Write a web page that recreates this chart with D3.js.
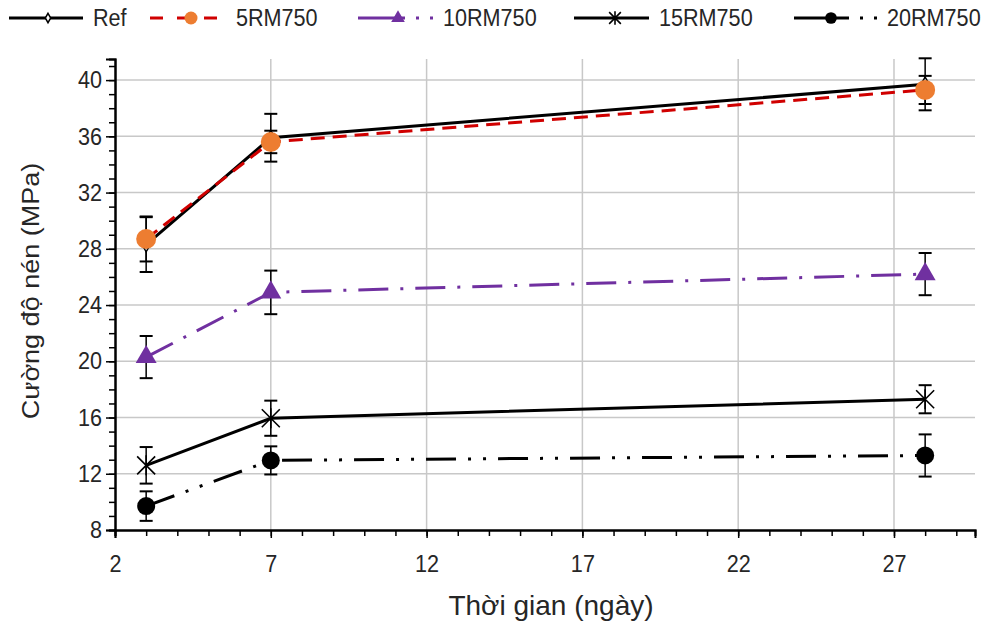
<!DOCTYPE html>
<html>
<head>
<meta charset="utf-8">
<script src="https://cdn.jsdelivr.net/npm/d3@7"></script>
<style>
  body { margin: 0; background: #fff; }
  text { font-family: "Liberation Sans", Arial, sans-serif; fill: #262626; }
</style>
</head>
<body>
<div id="chart"></div>
<script>

var days = [3, 7, 28];
var seriesNames = ["Ref", "5RM750", "10RM750", "15RM750", "20RM750"];

var refVals = [28.3, 35.9, 39.7];
var refErr = [1.95, 1.7, 1.85];
var rm5Vals = [28.7, 35.6, 39.3];
var rm5Err = [1.6, 0.8, 1.0];
var rm10Vals = [20.3, 24.9, 26.2];
var rm10Err = [1.5, 1.55, 1.5];
var rm15Vals = [12.6, 15.95, 17.3];
var rm15Err = [1.3, 1.25, 1.0];
var rm20Vals = [9.7, 12.95, 13.3];
var rm20Err = [1.05, 1.0, 1.5];

var xTicks = [2, 7, 12, 17, 22, 27];
var yTicks = [8, 12, 16, 20, 24, 28, 32, 36, 40];

var margin = { left: 115, right: 12, top: 59, bottom: 100 };
var W = 987, H = 630;
var width = W - margin.left - margin.right;
var height = H - margin.top - margin.bottom;
var SX = 0.9; // text in the picture is a little narrow

var series = [
  { name: seriesNames[0], vals: refVals, err: refErr, color: "#000", dash: null, marker: "diamond" },
  { name: seriesNames[1], vals: rm5Vals, err: rm5Err, color: "#d00000", dash: "14,8", marker: "circleOrange" },
  { name: seriesNames[2], vals: rm10Vals, err: rm10Err, color: "#7030a0", dash: "30,12,3,12", marker: "triangle" },
  { name: seriesNames[3], vals: rm15Vals, err: rm15Err, color: "#000", dash: null, marker: "asterisk" },
  { name: seriesNames[4], vals: rm20Vals, err: rm20Err, color: "#000", dash: "30,12,3,12,3,12", marker: "circleBlack" }
];

var svg = d3.select("#chart").append("svg")
  .attr("width", W)
  .attr("height", H);

var g = svg.append("g")
  .attr("transform", "translate(" + margin.left + "," + margin.top + ")");

var x = d3.scaleLinear().domain([2, 29.6]).range([0, width]);
var y = d3.scaleLinear().domain([8, 41.5]).range([height, 0]);

// grid
g.append("g").selectAll("line")
  .data(xTicks.slice(1)).enter()
  .append("line")
  .attr("x1", function(d){ return x(d); })
  .attr("x2", function(d){ return x(d); })
  .attr("y1", 0).attr("y2", height)
  .attr("stroke", "#c8c8c8").attr("stroke-width", 1.5);

g.append("g").selectAll("line")
  .data(yTicks.slice(1)).enter()
  .append("line")
  .attr("x1", 0).attr("x2", width)
  .attr("y1", function(d){ return y(d); })
  .attr("y2", function(d){ return y(d); })
  .attr("stroke", "#c8c8c8").attr("stroke-width", 1.5);

// axes
var xMinor = d3.range(2, 30, 1);
var yMinor = d3.range(8, 42, 1);

var xAxisMinor = d3.axisBottom(x).tickValues(xMinor).tickSize(6).tickFormat("");
var xAxis = d3.axisBottom(x).tickValues(xTicks).tickSize(8).tickPadding(17).tickFormat(d3.format("d"));
var yAxisMinor = d3.axisLeft(y).tickValues(yMinor).tickSize(6).tickFormat("");
var yAxis = d3.axisLeft(y).tickValues(yTicks).tickSize(9).tickPadding(5).tickFormat(d3.format("d"));

function styleAxis(sel) {
  sel.selectAll("path").attr("stroke", "#000").attr("stroke-width", 2);
  sel.selectAll("line").attr("stroke", "#000").attr("stroke-width", 1.5);
  sel.selectAll("text").style("font-size", "24px").attr("fill", "#262626");
}

g.append("g").attr("transform", "translate(0," + height + ")").call(xAxisMinor).call(styleAxis);
g.append("g").attr("transform", "translate(0," + height + ")").call(xAxis).call(styleAxis)
  .selectAll("text").attr("transform", "scale(" + SX + ",1)");
g.append("g").call(yAxisMinor).call(styleAxis);
g.append("g").call(yAxis).call(styleAxis)
  .selectAll("text").attr("x", -13 / SX).attr("transform", "scale(" + SX + ",1)");

// axis titles
svg.append("text")
  .attr("transform", "translate(551,615)")
  .attr("text-anchor", "middle")
  .style("font-size", "28px")
  .text("Thời gian (ngày)");

svg.append("text")
  .attr("transform", "translate(39,291) rotate(-90) scale(1,0.92)")
  .attr("text-anchor", "middle")
  .style("font-size", "27px")
  .text("Cường độ nén (MPa)");

// marker drawing
function drawMarker(sel, type, scale) {
  var s = scale || 1;
  if (type === "diamond") {
    sel.append("path")
      .attr("d", d3.symbol().type(d3.symbolDiamond).size(60 * s * s)())
      .attr("fill", "#fff").attr("stroke", "#000").attr("stroke-width", 1.5);
  } else if (type === "circleOrange") {
    sel.append("circle").attr("r", 10 * s).attr("fill", "#ed7d31");
  } else if (type === "circleBlack") {
    sel.append("circle").attr("r", 9 * s).attr("fill", "#000");
  } else if (type === "triangle") {
    sel.append("path")
      .attr("d", d3.symbol().type(d3.symbolTriangle).size(190 * s * s)())
      .attr("fill", "#7030a0");
  } else if (type === "asterisk") {
    var a = 9 * s;
    sel.append("path")
      .attr("d", "M" + (-a) + "," + (-a) + "L" + a + "," + a +
                 "M" + (-a) + "," + a + "L" + a + "," + (-a) +
                 "M0," + (-a - 1) + "L0," + (a + 1))
      .attr("stroke", "#000").attr("stroke-width", 1.6).attr("fill", "none");
  }
}

var line = d3.line()
  .x(function(d){ return x(d.day); })
  .y(function(d){ return y(d.v); });

function pts(s) {
  return days.map(function(d, i){ return { day: d, v: s.vals[i], e: s.err[i] }; });
}

// lines
series.forEach(function(s){
  g.append("path")
    .datum(pts(s))
    .attr("d", line)
    .attr("fill", "none")
    .attr("stroke", s.color)
    .attr("stroke-width", 3)
    .attr("stroke-dasharray", s.dash);
});

// error bars
series.forEach(function(s){
  var eb = g.append("g").selectAll("g")
    .data(pts(s)).enter().append("g");
  eb.append("line")
    .attr("x1", function(d){ return x(d.day); })
    .attr("x2", function(d){ return x(d.day); })
    .attr("y1", function(d){ return y(d.v + d.e); })
    .attr("y2", function(d){ return y(d.v - d.e); })
    .attr("stroke", "#000").attr("stroke-width", 1.5);
  [1, -1].forEach(function(sign){
    eb.append("line")
      .attr("x1", function(d){ return x(d.day) - 6.5; })
      .attr("x2", function(d){ return x(d.day) + 6.5; })
      .attr("y1", function(d){ return y(d.v + sign * d.e); })
      .attr("y2", function(d){ return y(d.v + sign * d.e); })
      .attr("stroke", "#000").attr("stroke-width", 2);
  });
});

// markers
series.forEach(function(s){
  pts(s).forEach(function(p){
    var mg = g.append("g").attr("transform", "translate(" + x(p.day) + "," + y(p.v) + ")");
    drawMarker(mg, s.marker, 1);
  });
});

// legend
var legendX = [9, 150, 358, 574, 794];
var legendTextX = [93, 236, 443, 659, 887];
var legendMarkX = [48, 191, 398, 615, 831];
var legendY = 18;

series.forEach(function(s, i){
  var lg = svg.append("g");
  var x0 = legendX[i];
  var len = legendTextX[i] - x0 - 10;
  var dash = null;
  if (s.marker === "circleOrange") dash = "13,14";
  if (s.marker === "triangle" || s.marker === "circleBlack") dash = (len - 28) + ",11,3,11";
  lg.append("line").attr("x1", x0).attr("x2", x0 + len).attr("y1", legendY).attr("y2", legendY)
    .attr("stroke", s.color).attr("stroke-width", 3).attr("stroke-dasharray", dash);
  var mg = lg.append("g").attr("transform", "translate(" + legendMarkX[i] + "," + legendY + ")");
  drawMarker(mg, s.marker, 0.65);
  lg.append("text")
    .attr("transform", "translate(" + legendTextX[i] + "," + (legendY + 8) + ") scale(" + SX + ",1)")
    .style("font-size", "24px")
    .text(s.name);
});

</script>
</body>
</html>
